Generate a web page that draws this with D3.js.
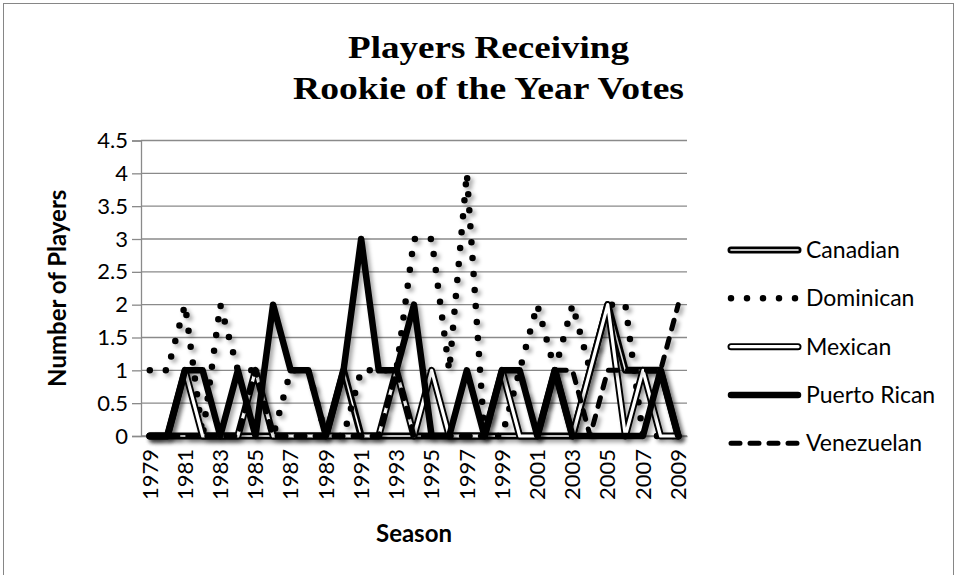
<!DOCTYPE html>
<html>
<head>
<meta charset="utf-8">
<script src="https://cdn.jsdelivr.net/npm/d3@7"></script>
<style>
  body { margin: 0; background: #fff; }
  svg { display: block; }
</style>
</head>
<body>
<div id="chart"></div>
<script>
// Data
const seasons = [1979, 1980, 1981, 1982, 1983, 1984, 1985, 1986, 1987, 1988, 1989, 1990,
  1991, 1992, 1993, 1994, 1995, 1996, 1997, 1998, 1999, 2000, 2001, 2002, 2003, 2004,
  2005, 2006, 2007, 2008, 2009];
const canadian    = [0,0,0,0,0,0,0,0,0,0,0,1,0,0,0,0,0,0,0,0,0,0,0,0,0,1,2,1,1,1,0];
const dominican   = [1,1,2,0,2,1,1,0,1,1,0,0,1,1,1,3,3,1,4,0,0,1,2,1,2,1,2,2,0,0,0];
const mexican     = [0,0,1,0,0,0,1,0,0,0,0,0,0,0,1,0,1,0,0,0,1,0,0,1,0,1,2,0,1,0,0];
const puertoRican = [0,0,1,1,0,1,0,2,1,1,0,1,3,1,1,2,0,0,1,0,1,1,0,1,0,0,0,0,0,1,0];
const venezuelan  = [0,0,0,0,0,0,1,0,0,0,0,0,0,0,1,0,0,0,0,0,1,1,0,1,1,0,1,1,1,1,2];
const yTicks = [0, 0.5, 1, 1.5, 2, 2.5, 3, 3.5, 4, 4.5];
const xTickLabels = [1979, 1981, 1983, 1985, 1987, 1989, 1991, 1993, 1995, 1997, 1999,
  2001, 2003, 2005, 2007, 2009];

const series = [
  { name: "Canadian", values: canadian, style: "canadian" },
  { name: "Dominican", values: dominican, style: "dominican" },
  { name: "Mexican", values: mexican, style: "mexican" },
  { name: "Puerto Rican", values: puertoRican, style: "pr" },
  { name: "Venezuelan", values: venezuelan, style: "venezuelan" }
];

const width = 958;
const height = 575;
const marginLeft = 141;
const plotRight = 687;
const plotTop = 140.5;
const plotBottom = 436;
const sansFont = "Lato, 'Open Sans', sans-serif";

const svg = d3.select("#chart").append("svg")
  .attr("width", width)
  .attr("height", height);

// drop shadow like the spreadsheet line effect
const defs = svg.append("defs");
const shadow = defs.append("filter")
  .attr("id", "shadow")
  .attr("x", "-10%").attr("y", "-10%")
  .attr("width", "130%").attr("height", "130%");
shadow.append("feDropShadow")
  .attr("dx", 3).attr("dy", 3)
  .attr("stdDeviation", 2.2)
  .attr("flood-color", "#000")
  .attr("flood-opacity", 0.35);

// outer chart border
svg.append("rect")
  .attr("x", 3.5).attr("y", 3.5)
  .attr("width", 950).attr("height", 600)
  .attr("fill", "none")
  .attr("stroke", "#868686")
  .attr("stroke-width", 1);

// Title
const title = svg.append("text")
  .attr("text-anchor", "middle")
  .attr("font-family", "'Liberation Serif', 'Times New Roman', serif")
  .attr("font-weight", "bold")
  .attr("font-size", 32)
  .attr("fill", "#000");
title.append("tspan").attr("x", 488.5).attr("y", 58)
  .attr("textLength", 281).attr("lengthAdjust", "spacingAndGlyphs")
  .text("Players Receiving");
title.append("tspan").attr("x", 488.5).attr("y", 99)
  .attr("textLength", 391).attr("lengthAdjust", "spacingAndGlyphs")
  .text("Rookie of  the Year Votes");

// Scales
const x = d3.scaleBand()
  .domain(seasons)
  .range([marginLeft, plotRight]);
const y = d3.scaleLinear()
  .domain([0, 4.5])
  .range([plotBottom, plotTop]);
const cx = d => x(d) + x.bandwidth() / 2;

// Gridlines
svg.append("g")
  .attr("class", "grid")
  .selectAll("line")
  .data(yTicks)
  .join("line")
  .attr("x1", marginLeft)
  .attr("x2", plotRight)
  .attr("y1", d => y(d))
  .attr("y2", d => y(d))
  .attr("stroke", "#8a8a8a")
  .attr("stroke-width", 1.3);

// Y axis
const gy = svg.append("g")
  .attr("transform", `translate(${marginLeft},0)`)
  .call(d3.axisLeft(y).tickValues(yTicks).tickSize(9).tickPadding(4)
    .tickFormat(d => String(d)));
gy.select(".domain").attr("stroke", "#8a8a8a").attr("stroke-width", 1.3);
gy.selectAll(".tick line").attr("stroke", "#8a8a8a").attr("stroke-width", 1.3);
gy.selectAll(".tick text")
  .attr("font-family", sansFont)
  .attr("font-size", 22)
  .attr("fill", "#000");

// X axis
const gx = svg.append("g")
  .attr("transform", `translate(0,${plotBottom})`)
  .call(d3.axisBottom(x).tickValues(xTickLabels).tickSize(0).tickPadding(0));
gx.select(".domain").attr("stroke", "#8a8a8a").attr("stroke-width", 1.3);
gx.selectAll(".tick text")
  .attr("font-family", sansFont)
  .attr("font-size", 22)
  .attr("fill", "#000")
  .attr("text-anchor", "end")
  .attr("transform", "translate(0,13) rotate(-90)")
  .attr("dy", "0.35em")
  .attr("x", 0)
  .attr("y", 0);

// Axis titles
svg.append("text")
  .attr("transform", `translate(66,${(plotTop + plotBottom) / 2}) rotate(-90)`)
  .attr("text-anchor", "middle")
  .attr("font-family", sansFont)
  .attr("font-weight", "bold")
  .attr("font-size", 24)
  .text("Number of Players");

svg.append("text")
  .attr("x", (marginLeft + plotRight) / 2)
  .attr("y", 542)
  .attr("text-anchor", "middle")
  .attr("font-family", sansFont)
  .attr("font-weight", "bold")
  .attr("font-size", 24)
  .text("Season");

// Stroke styles for each series: list of layered strokes
const styles = {
  canadian: [
    { stroke: "#000", width: 7 },
    { stroke: "#fff", width: 1.6 }
  ],
  dominican: [
    { stroke: "#000", width: 6.5, dash: "0 16", cap: "round" }
  ],
  mexican: [
    { stroke: "#000", width: 7 },
    { stroke: "#fff", width: 3.2 }
  ],
  pr: [
    { stroke: "#000", width: 6.5 }
  ],
  venezuelan: [
    { stroke: "#000", width: 5, dash: "9 10", cap: "round" }
  ]
};

const line = d3.line()
  .x((d, i) => cx(seasons[i]))
  .y(d => y(d));

const plot = svg.append("g").attr("class", "series");
series.forEach(s => {
  const g = plot.append("g").attr("filter", "url(#shadow)");
  styles[s.style].forEach(st => {
    g.append("path")
      .datum(s.values)
      .attr("d", line)
      .attr("fill", "none")
      .attr("stroke", st.stroke)
      .attr("stroke-width", st.width)
      .attr("stroke-linejoin", "round")
      .attr("stroke-linecap", st.cap || "round")
      .attr("stroke-dasharray", st.dash || null);
  });
});

// Legend
const legend = svg.append("g").attr("class", "legend");
const legendY = d3.scalePoint()
  .domain(series.map(s => s.name))
  .range([250, 443.3]);
series.forEach(s => {
  const ly = legendY(s.name);
  styles[s.style].forEach(st => {
    legend.append("line")
      .attr("x1", 731).attr("x2", 798)
      .attr("y1", ly).attr("y2", ly)
      .attr("stroke", st.stroke)
      .attr("stroke-width", st.width)
      .attr("stroke-linecap", st.cap || "round")
      .attr("stroke-dasharray", st.dash || null);
  });
  legend.append("text")
    .attr("x", 806)
    .attr("y", ly)
    .attr("dy", "0.35em")
    .attr("font-family", sansFont)
    .attr("font-size", 23)
    .text(s.name);
});
</script>
</body>
</html>
